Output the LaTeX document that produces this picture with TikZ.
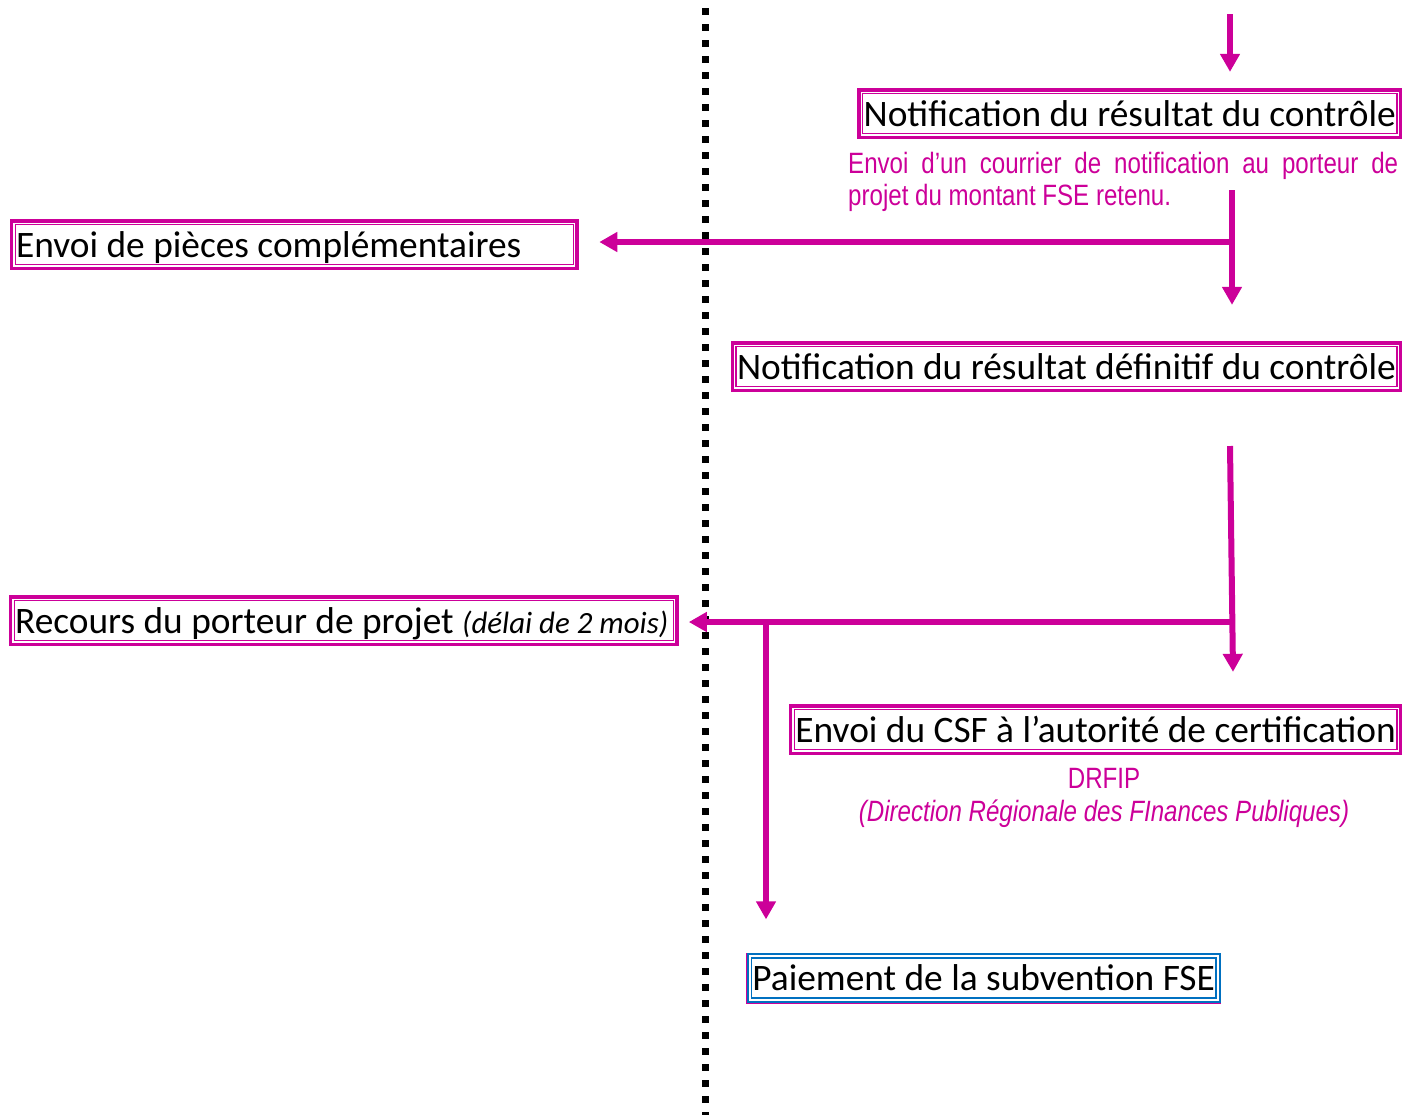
\documentclass[tikz,border=0pt]{standalone}
\usepackage{fontspec}
\setmainfont{Carlito}
\newfontfamily\notefont[FakeStretch=0.82]{Liberation Sans}
\usepackage{tikz}
\usetikzlibrary{arrows.meta}
\definecolor{fsemag}{RGB}{204,0,153}
\definecolor{fseblue}{RGB}{0,112,192}

\begin{document}
\begin{tikzpicture}[x=1bp, y=-1bp,
    stepbox/.style={fill=white, draw=fsemag, line width=1.3bp,
        preaction={draw=fsemag, line width=11bp},
        preaction={draw=white, line width=4bp},
        inner xsep=1bp, inner ysep=0pt, minimum height=40bp,
        text height=25bp, text depth=0bp,
        font=\fontsize{37.5}{40}\selectfont},
    paybox/.style={stepbox, draw=fseblue,
        preaction={draw=fseblue, line width=9.3bp},
        preaction={draw=white, line width=5.3bp}},
    notetext/.style={inner sep=0pt, text=fsemag,
        font=\notefont\fontsize{29.5}{32.5}\selectfont},
    flow/.style={draw=fsemag, line width=6bp,
        -{Triangle[width=19bp,length=18bp]}}]
    \useasboundingbox (0,0) rectangle (1406,1115);

    % separation line
    \draw[line width=7bp, dash pattern=on 7bp off 9bp] (705,8) -- (705,1115);

    % steps
    \node[stepbox, anchor=east] (notif) at (1397.5,113.5) {Notification du résultat du contrôle};
    \node[notetext, anchor=north west, text width=550bp, align=justify] (courrier) at (848,151.5)
        {Envoi d’un courrier de notification au porteur de\linebreak projet du montant FSE retenu.};
    \node[stepbox, anchor=west] (pieces) at (14.5,244.5)
        {\makebox[556bp][l]{Envoi de pièces complémentaires}};
    \node[stepbox, anchor=east] (definitif) at (1397.5,366.5) {Notification du résultat définitif du contrôle};
    \node[stepbox, anchor=west] (recours) at (13.5,620.5)
        {\makebox[657bp][l]{Recours du porteur de projet {\fontsize{31}{32}\selectfont\itshape(délai de 2 mois)}}};
    \node[stepbox, anchor=east] (csf) at (1397.5,729.5) {Envoi du CSF à l’autorité de certification};
    \node[notetext, anchor=north, align=center] (drfip) at (1104,768.5)
        {DRFIP\\ \itshape(Direction Régionale des FInances Publiques)};
    \node[paybox, anchor=west] (paiement) at (750.7,978) {Paiement de la subvention FSE};

    % connector points
    \coordinate (in) at (1230,14);
    \coordinate (a1) at (1232,190);
    \coordinate (j1) at (1232,242);
    \coordinate (a2) at (1230,446);
    \coordinate (j2) at (1230,622);
    \coordinate (j3) at (766,622);

    % arrows
    \draw[flow] (in) -- ([yshift=21bp]in |- notif.north);
    \draw[flow] (a1) -- ([yshift=41bp]a1 |- definitif.north);
    \draw[flow] (j1) -- ([xshift=25.5bp]pieces.east |- j1);
    \draw[flow] (a2) -- ([xshift=3bp,yshift=37bp]a2 |- csf.north);
    \draw[flow] (j2) -- ([xshift=15bp]recours.east |- j2);
    \draw[flow] (j3) -- ([yshift=38bp]j3 |- paiement.north);
\end{tikzpicture}
\end{document}
